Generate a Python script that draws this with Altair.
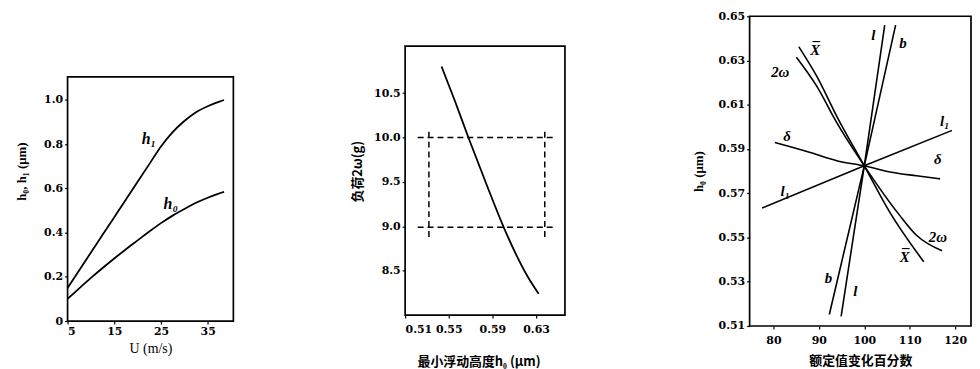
import altair as alt
import pandas as pd

SERIF = "DejaVu Serif"
ISERIF = "Liberation Serif"
CJK = "Noto Sans CJK SC"

# ---------------- Panel 1: h0, h1 vs U ----------------
u_vals = [5, 7.5, 10, 12.5, 15, 17.5, 20, 22.5, 25, 27.5, 30, 32.5, 35, 37.5, 38.5]
h1_vals = [0.15, 0.23, 0.31, 0.39, 0.47, 0.55, 0.63, 0.71, 0.79, 0.855, 0.905, 0.945, 0.972, 0.993, 1.0]
h0_vals = [0.10, 0.148, 0.195, 0.24, 0.283, 0.325, 0.365, 0.405, 0.443, 0.477, 0.507, 0.535, 0.558, 0.578, 0.585]
p1_label_text = ["h\u2081", "h\u2080"]
p1_label_x = [22.4, 27.1]
p1_label_y = [0.822, 0.53]
p1_yticks = [0.0, 0.1, 0.2, 0.3, 0.4, 0.5, 0.6, 0.7, 0.8, 0.9, 1.0]
p1_xticks = [5, 10, 15, 20, 25, 30, 35, 40]
p1_frame_x = [5, 40.5]
p1_frame_y = [0, 1.105]

# ---------------- Panel 2: load vs minimum flying height ----------------
p2_x = [0.5434, 0.556, 0.568, 0.584, 0.600, 0.611, 0.622, 0.6324]
p2_y = [10.80, 10.40, 10.0, 9.49, 9.0, 8.70, 8.44, 8.24]
p2_hdash_y = [10.0, 8.99]
p2_hdash_x = [0.5215, 0.6485]
p2_vdash_x = [0.5318, 0.638]
p2_vdash_y = [8.88, 10.10]
p2_yticks = [8.5, 9.0, 9.5, 10.0, 10.5]
p2_xticks = [0.51, 0.53, 0.55, 0.57, 0.59, 0.61, 0.63, 0.65]
p2_frame_x = [0.51, 0.6565]
p2_frame_y = [8.0, 11.03]

# ---------------- Panel 3: sensitivity lines ----------------
l_x = [94.9, 100, 104.5]
l_y = [0.5144, 0.5824, 0.646]
b_x = [92.3, 100, 106.9]
b_y = [0.5152, 0.5824, 0.646]
xbar_x = [85.6, 89.56, 93.94, 100, 105.6, 113.1]
xbar_y = [0.6362, 0.6228, 0.6048, 0.5824, 0.5615, 0.539]
w2_x = [85.05, 89.56, 93.94, 100, 107.8, 111.5, 117.1]
w2_y = [0.6315, 0.6183, 0.6019, 0.5824, 0.560, 0.551, 0.544]
delta_x = [80.3, 88.1, 93.94, 100, 106, 111.5, 116.7]
delta_y = [0.5929, 0.5884, 0.5847, 0.5824, 0.5795, 0.5779, 0.5765]
l1_x = [77.5, 100, 119.3]
l1_y = [0.5633, 0.5824, 0.5984]
p3_label_text = ["l", "b", "X", "2\u03c9", "\u03b4", "l\u2081", "\u03b4", "l\u2081", "2\u03c9", "X", "b", "l"]
p3_label_x = [101.97, 108.5, 89.2, 81.5, 83.0, 117.7, 116.2, 82.6, 116.2, 108.9, 92.1, 98.0]
p3_label_y = [0.6415, 0.6378, 0.6348, 0.625, 0.5959, 0.6026, 0.5854, 0.5712, 0.5503, 0.5413, 0.5316, 0.5256]
p3_bar_x = [89.2, 108.9]
p3_bar_y = [0.6348, 0.5413]
p3_yticks = [0.51, 0.53, 0.55, 0.57, 0.59, 0.61, 0.63, 0.65]
p3_xticks = [80, 90, 100, 110, 120]
p3_frame_x = [74.75, 123.5]
p3_frame_y = [0.51, 0.65]

PLOT_H = 312


def axis(title, values, label_expr=None, title_font=ISERIF, title_pad=4, label_pad=2, **kw):
    opts = dict(
        title=title, values=values, grid=False, domain=False,
        tickColor="black", tickSize=3, tickWidth=1.2,
        labelFont=SERIF, labelFontWeight="bold", labelFontSize=11, labelColor="black",
        labelPadding=label_pad,
        titleFont=title_font, titleFontWeight="bold", titleFontSize=13, titleColor="black",
        titlePadding=title_pad,
    )
    if label_expr is not None:
        opts["labelExpr"] = label_expr
    opts.update(kw)
    return alt.Axis(**opts)


def frame(fx, fy, xs, ys):
    df = pd.DataFrame({"x": [fx[0]], "x2": [fx[1]], "y": [fy[0]], "y2": [fy[1]]})
    return alt.Chart(df).mark_rect(fillOpacity=0, stroke="black", strokeWidth=1.7).encode(
        x=alt.X("x:Q", scale=xs), x2="x2:Q", y=alt.Y("y:Q", scale=ys), y2="y2:Q"
    )


# ---- panel 1 ----
k1 = 246 / (p1_frame_y[1] - p1_frame_y[0])
x1 = alt.Scale(domain=p1_frame_x, nice=False, zero=False)
y1 = alt.Scale(domain=[p1_frame_y[0] - 5 / k1, p1_frame_y[1] + 61 / k1], nice=False, zero=False)
n1 = len(u_vals)
df1 = pd.DataFrame({
    "x": u_vals + u_vals,
    "y": h1_vals + h0_vals,
    "s": ["h1"] * n1 + ["h0"] * n1,
    "o": list(range(n1)) * 2,
})
p1_lines = alt.Chart(df1).mark_line(color="black", strokeWidth=1.8, interpolate="monotone").encode(
    x=alt.X("x:Q", scale=x1, axis=axis("U (m/s)", p1_xticks,
                                       "indexof([5,15,25,35], datum.value) >= 0 ? datum.value : ''",
                                       title_pad=5, offset=-5, titleFontWeight="normal", titleFontSize=14)),
    y=alt.Y("y:Q", scale=y1, axis=axis("h\u2080, h\u2081 (\u03bcm)", p1_yticks,
                                       "round(datum.value*10) % 2 == 0 ? (datum.value == 0 ? '0' : format(datum.value, '.1f')) : ''",
                                       title_pad=15)),
    detail="s:N",
    order="o:Q",
)
p1_text = alt.Chart(pd.DataFrame({"x": p1_label_x, "y": p1_label_y, "t": p1_label_text})).mark_text(
    font=ISERIF, fontStyle="italic", fontWeight="bold", fontSize=16, color="black"
).encode(x=alt.X("x:Q", scale=x1), y=alt.Y("y:Q", scale=y1), text="t:N")
panel1 = alt.layer(frame(p1_frame_x, p1_frame_y, x1, y1), p1_lines, p1_text).properties(
    width=167, height=PLOT_H
)

# ---- panel 2 ----
kx2 = 161 / (p2_frame_x[1] - p2_frame_x[0])
ky2 = 271 / (p2_frame_y[1] - p2_frame_y[0])
x2 = alt.Scale(domain=[p2_frame_x[0], p2_frame_x[1] + 13 / kx2], nice=False, zero=False)
y2 = alt.Scale(domain=[p2_frame_y[0] - 11 / ky2, p2_frame_y[1] + 30 / ky2], nice=False, zero=False)
df2 = pd.DataFrame({"x": p2_x, "y": p2_y, "o": list(range(len(p2_x)))})
p2_line = alt.Chart(df2).mark_line(color="black", strokeWidth=1.8, interpolate="monotone").encode(
    x=alt.X("x:Q", scale=x2, axis=axis("\u6700\u5c0f\u6d6e\u52a8\u9ad8\u5ea6h\u2080 (\u03bcm)", p2_xticks,
                                       "indexof([0.51,0.55,0.59,0.63], round(datum.value*100)/100) >= 0 ? format(datum.value, '.2f') : ''",
                                       title_font=CJK, title_pad=21, label_pad=6, offset=-11, titleX=74)),
    y=alt.Y("y:Q", scale=y2, axis=axis("\u8d1f\u83772\u03c9(g)", p2_yticks, "format(datum.value, '.1f')",
                                       title_font=CJK, title_pad=9)),
    order="o:Q",
)
df2h = pd.DataFrame({"y": p2_hdash_y, "x": [p2_hdash_x[0]] * 2, "x2": [p2_hdash_x[1]] * 2})
p2_h = alt.Chart(df2h).mark_rule(color="black", strokeWidth=1.5, strokeDash=[6, 4]).encode(
    x=alt.X("x:Q", scale=x2), x2="x2:Q", y=alt.Y("y:Q", scale=y2)
)
df2v = pd.DataFrame({"x": p2_vdash_x, "y": [p2_vdash_y[0]] * 2, "y2": [p2_vdash_y[1]] * 2})
p2_v = alt.Chart(df2v).mark_rule(color="black", strokeWidth=1.5, strokeDash=[6, 4]).encode(
    x=alt.X("x:Q", scale=x2), y=alt.Y("y:Q", scale=y2), y2="y2:Q"
)
panel2 = alt.layer(frame(p2_frame_x, p2_frame_y, x2, y2), p2_line, p2_h, p2_v).properties(
    width=174, height=PLOT_H
)

# ---- panel 3 ----
series = [("l", l_x, l_y), ("b", b_x, b_y), ("xbar", xbar_x, xbar_y),
          ("2w", w2_x, w2_y), ("delta", delta_x, delta_y), ("l1", l1_x, l1_y)]
rows = []
for name, xs, ys in series:
    for i, (xv, yv) in enumerate(zip(xs, ys)):
        rows.append({"x": xv, "y": yv, "s": name, "o": i})
df3 = pd.DataFrame(rows)
x3 = alt.Scale(domain=p3_frame_x, nice=False, zero=False)
y3 = alt.Scale(domain=p3_frame_y, nice=False, zero=False)
p3_lines = alt.Chart(df3).mark_line(color="black", strokeWidth=1.6, interpolate="monotone").encode(
    x=alt.X("x:Q", scale=x3, axis=axis("\u989d\u5b9a\u503c\u53d8\u5316\u767e\u5206\u6570", p3_xticks, None,
                                       title_font=CJK, title_pad=9, label_pad=6)),
    y=alt.Y("y:Q", scale=y3, axis=axis("h\u2080 (\u03bcm)", p3_yticks, "format(datum.value, '.2f')",
                                       title_pad=13)),
    detail="s:N",
    order="o:Q",
)
p3_text = alt.Chart(pd.DataFrame({"x": p3_label_x, "y": p3_label_y, "t": p3_label_text})).mark_text(
    font=ISERIF, fontStyle="italic", fontWeight="bold", fontSize=15, color="black"
).encode(x=alt.X("x:Q", scale=x3), y=alt.Y("y:Q", scale=y3), text="t:N")
p3_bars = alt.Chart(pd.DataFrame({"x": p3_bar_x, "y": p3_bar_y})).mark_text(
    text="\u00af", font=ISERIF, fontWeight="bold", fontSize=15, color="black", dy=-3, dx=1
).encode(x=alt.X("x:Q", scale=x3), y=alt.Y("y:Q", scale=y3))
panel3 = alt.layer(frame(p3_frame_x, p3_frame_y, x3, y3), p3_lines, p3_text, p3_bars).properties(
    width=223, height=PLOT_H
)

chart = alt.hconcat(panel1, panel2, panel3, spacing=173, bounds="flush").properties(
    padding={"left": 7, "top": 1, "right": 0, "bottom": 0}
).configure_view(strokeWidth=0)

chart.save("out.html", embed_options={"renderer": "svg", "actions": False})
